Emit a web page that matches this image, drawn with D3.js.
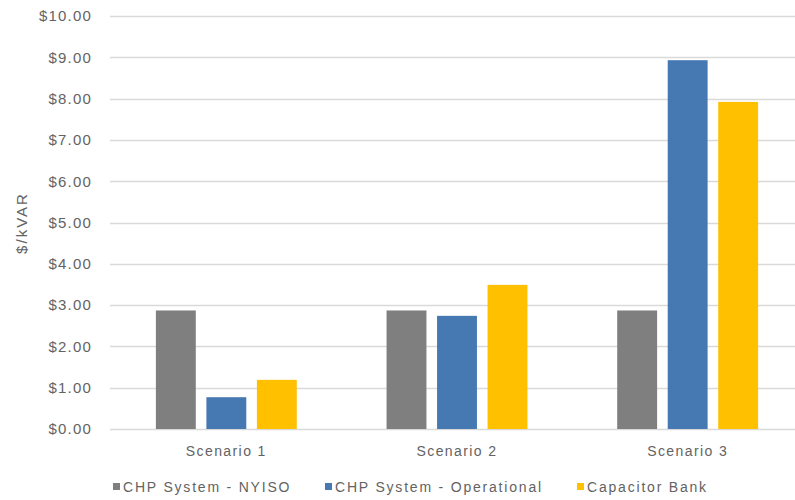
<!DOCTYPE html>
<html>
<head>
<meta charset="utf-8">
<script src="https://cdn.jsdelivr.net/npm/d3@7"></script>
<style>
  html, body { margin: 0; padding: 0; background: #fff; }
  svg { display: block; font-family: "Liberation Sans", Arial, sans-serif; }
</style>
</head>
<body>
<svg id="chart" width="795" height="500"></svg>
<script>
// Cost per kVAR for each scenario
const categories = ["Scenario 1", "Scenario 2", "Scenario 3"];
const seriesNames = ["CHP System - NYISO", "CHP System - Operational", "Capacitor Bank"];
const nyiso = [2.87, 2.87, 2.87];
const operational = [0.77, 2.74, 8.93];
const capacitorBank = [1.19, 3.49, 7.92];
const yTicks = [0, 1, 2, 3, 4, 5, 6, 7, 8, 9, 10];
const colors = ["#7f7f7f", "#4679b2", "#ffc000"];

const seriesValues = [nyiso, operational, capacitorBank];
const rows = categories.map((c, i) => ({
  category: c,
  values: seriesNames.map((s, j) => ({ series: s, value: seriesValues[j][i] }))
}));

const svg = d3.select("#chart");
const textColor = "#636363";

const x0 = d3.scaleBand().domain(categories).range([111, 803]).padding(0);
const x1 = d3.scaleBand().domain(seriesNames)
  .range([-75.75, 75.75]).paddingInner(0.21).paddingOuter(0.105);
const y = d3.scaleLinear().domain([0, 10]).range([429, 16]);

// Gridlines
svg.append("g")
  .selectAll("line")
  .data(yTicks)
  .join("line")
  .attr("x1", 110).attr("x2", 795)
  .attr("y1", d => Math.round(y(d)) + 0.5)
  .attr("y2", d => Math.round(y(d)) + 0.5)
  .attr("stroke", "#d9d9d9")
  .attr("stroke-width", 1.3);

// Y axis labels
const yAxis = d3.axisLeft(y).tickValues(yTicks).tickSize(0).tickPadding(0)
  .tickFormat(d => "$" + d3.format(".2f")(d));
const gy = svg.append("g").attr("transform", "translate(92,0)").call(yAxis);
gy.select(".domain").remove();
gy.selectAll("text")
  .attr("fill", textColor)
  .style("font-size", "15px")
  .style("letter-spacing", "1.2px")
  .style("font-family", "'Liberation Sans', Arial, sans-serif");

// Bars
const groups = svg.append("g")
  .selectAll("g")
  .data(rows)
  .join("g")
  .attr("transform", d => `translate(${x0(d.category) + x0.bandwidth() / 2},0)`);

groups.selectAll("rect")
  .data(d => d.values)
  .join("rect")
  .attr("x", d => x1(d.series))
  .attr("width", x1.bandwidth())
  .attr("y", d => y(d.value))
  .attr("height", d => y(0) - y(d.value))
  .attr("fill", (d, i) => colors[i]);

// Category axis
const xAxis = d3.axisBottom(x0).tickSize(0).tickPadding(0);
const gx = svg.append("g").attr("transform", "translate(0,446)").call(xAxis);
gx.select(".domain").remove();
gx.selectAll("text")
  .attr("fill", textColor)
  .attr("dy", "0.71em")
  .style("font-size", "14px")
  .style("letter-spacing", "1.4px")
  .style("font-family", "'Liberation Sans', Arial, sans-serif");

// Y axis title
svg.append("text")
  .attr("transform", "translate(27,223) rotate(-90)")
  .attr("text-anchor", "middle")
  .attr("fill", textColor)
  .style("font-size", "15px")
  .style("letter-spacing", "2px")
  .text("$/kVAR");

// Legend
const legendX = [113, 325, 577];
const legend = svg.append("g")
  .selectAll("g")
  .data(seriesNames)
  .join("g")
  .attr("transform", (d, i) => `translate(${legendX[i]},487)`);

legend.append("rect")
  .attr("x", 0).attr("y", -4)
  .attr("width", 7).attr("height", 7)
  .attr("fill", (d, i) => colors[i]);

legend.append("text")
  .attr("x", 10)
  .attr("dy", "0.35em")
  .attr("fill", textColor)
  .style("font-size", "14px")
  .style("letter-spacing", "1.8px")
  .text(d => d);
</script>
</body>
</html>
